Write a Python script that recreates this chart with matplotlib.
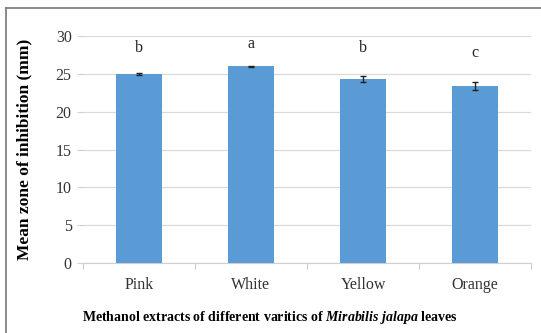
import matplotlib
matplotlib.use("Agg")
import matplotlib.pyplot as plt
from matplotlib.lines import Line2D

categories = ["Pink", "White", "Yellow", "Orange"]
means = [25.0, 26.0, 24.3, 23.4]
errors = [0.1, 0.05, 0.4, 0.55]
letters = ["b", "a", "b", "c"]
letter_y = [28.4, 28.9, 28.4, 27.8]
yticks = [0, 5, 10, 15, 20, 25, 30]

plt.rcParams["font.family"] = ["Liberation Serif", "DejaVu Serif"]
plt.rcParams["mathtext.fontset"] = "custom"
plt.rcParams["mathtext.rm"] = "Liberation Serif:bold"
plt.rcParams["mathtext.it"] = "Liberation Serif:italic:bold"
plt.rcParams["mathtext.bf"] = "Liberation Serif:bold"

fig = plt.figure(figsize=(5.41, 3.33), dpi=100)
ax = fig.add_axes([0.153, 0.21, 0.829, 0.682])

x = range(len(categories))
ax.bar(x, means, width=0.41, color="#5b9bd5", zorder=3,
       yerr=errors, error_kw=dict(ecolor="#222222", elinewidth=1.0, capsize=2.5, capthick=1.0, zorder=4))

for xi, lt, ly in zip(x, letters, letter_y):
    ax.text(xi, ly, lt, ha="center", va="center", fontsize=11.5, color="#222222")

ax.set_xlim(-0.5, len(categories) - 0.5)
ax.set_ylim(0, 30)
ax.set_yticks(yticks)
ax.set_yticklabels([str(v) for v in yticks], fontsize=11.5, color="#333333")
ax.set_xticks(list(x))
ax.set_xticklabels(categories, fontsize=11.5, color="#333333")
ax.tick_params(axis="x", length=0, pad=10)
ax.tick_params(axis="y", length=4, color="#d0d0d0", pad=4)

# category separator ticks on the x axis
ax.set_xticks([i + 0.5 for i in range(-1, len(categories))], minor=True)
ax.tick_params(axis="x", which="minor", length=4, color="#c0c0c0")

ax.grid(axis="y", color="#d9d9d9", linewidth=0.9, zorder=0)
for s in ["top", "right", "left"]:
    ax.spines[s].set_visible(False)
ax.spines["bottom"].set_color("#d0d0d0")

ax.set_ylabel("Mean zone of inhibition (mm)", fontsize=12.5, fontweight="bold", labelpad=17)
fig.text(270 / 541, 1 - 318 / 333,
         "Methanol extracts of different varitics of $\\mathit{Mirabilis\\ jalapa}$ leaves",
         ha="center", va="center", fontsize=10, fontweight="bold")

# outer frame
fig.add_artist(Line2D([6 / 541, 1.0], [1 - 8 / 333, 1 - 8 / 333], transform=fig.transFigure, color="#777777", lw=1.2))
fig.add_artist(Line2D([6 / 541, 6 / 541], [0.0, 1 - 8 / 333], transform=fig.transFigure, color="#777777", lw=1.2))

fig.savefig("out.png", dpi=100)
